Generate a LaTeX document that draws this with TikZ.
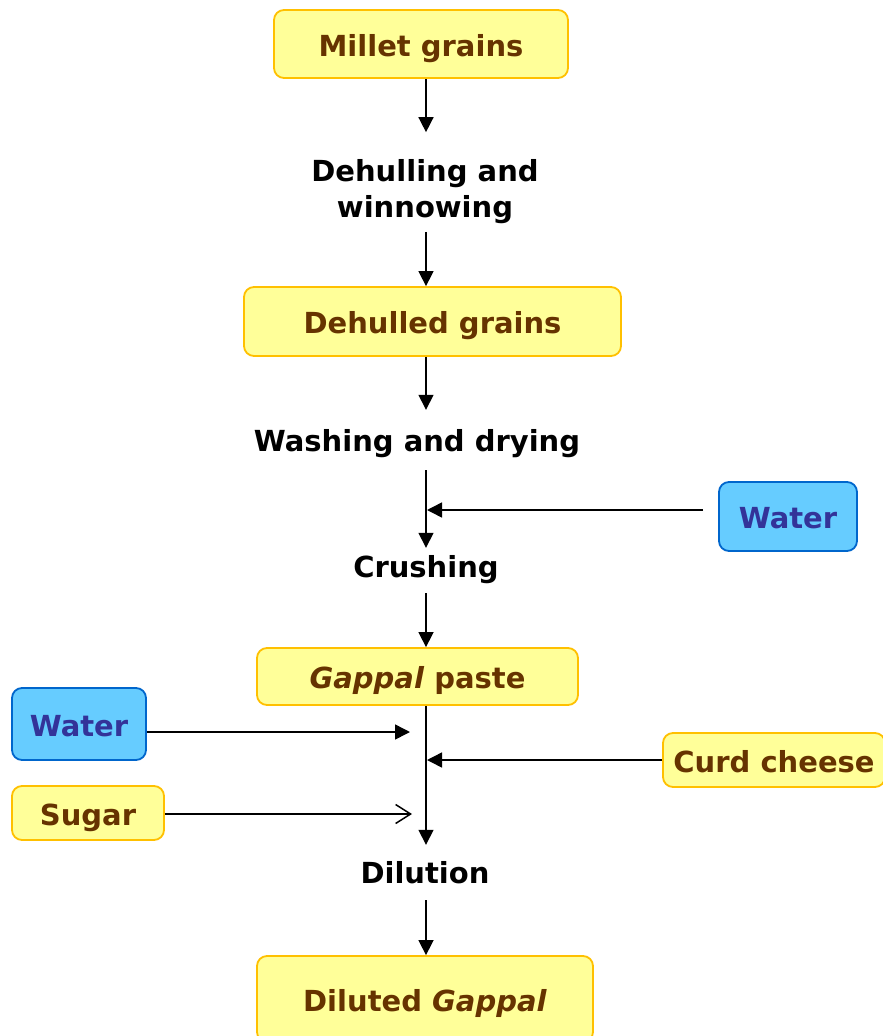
\documentclass[tikz,border=0pt]{standalone}
\usepackage{fontspec}
\setmainfont{DejaVu Sans}
\usetikzlibrary{arrows.meta}
\definecolor{boxfill}{HTML}{FFFF99}
\definecolor{boxline}{HTML}{FFC000}
\definecolor{boxtext}{HTML}{663300}
\definecolor{waterfill}{HTML}{66CCFF}
\definecolor{waterline}{HTML}{0066CC}
\definecolor{watertext}{HTML}{333399}
\begin{document}
\begin{tikzpicture}[x=1pt,y=-1pt,
  every node/.style={font=\fontsize{29}{36}\selectfont\bfseries},
  boxed/.style={rounded corners=10pt, line width=1.8pt, inner sep=0pt, text height=26pt, text depth=2pt},
  prod/.style={boxed, draw=boxline, fill=boxfill, text=boxtext},
  water/.style={boxed, draw=waterline, fill=waterfill, text=watertext},
  stage/.style={text=black, align=center, inner sep=0pt},
  onestage/.style={stage, text height=25pt, text depth=3pt},
  arr/.style={-{Triangle[length=15pt,width=15pt]}, line width=1.5pt},
  barb/.style={-{Straight Barb[length=15pt,width=19pt,line width=1.5pt]}, line width=1.5pt}
]
\useasboundingbox (0,0) rectangle (883,1036);
\clip (0,0) rectangle (883,1036);

% products
\node[prod, minimum width=294pt, minimum height=68pt] (millet) at (421,44) {Millet grains};
\node[prod, minimum width=377pt, minimum height=69pt] (dehulled) at (432.5,321.5) {Dehulled grains};
\node[prod, minimum width=321pt, minimum height=57pt] (gappal) at (417.5,676.5) {\textit{Gappal} paste};
\node[prod, minimum width=222pt, minimum height=54pt] (curd) at (774,760) {Curd cheese};
\node[prod, minimum width=152pt, minimum height=54pt] (sugar) at (88,813) {Sugar};
\node[prod, minimum width=336pt, minimum height=86pt] (diluted) at (425,999) {Diluted \textit{Gappal}};

% water inputs
\node[water, minimum width=138pt, minimum height=69pt] (waterR) at (788,516.5) {Water};
\node[water, minimum width=134pt, minimum height=72pt] (waterL) at (79,724) {Water};

% processing steps
\node[stage] (dehul) at (425,191.5) {Dehulling and\\winnowing};
\node[onestage] (wash) at (417,440) {Washing and drying};
\node[onestage] (crush) at (426,566) {Crushing};
\node[onestage] (dil) at (425,872) {Dilution};

% main column
\coordinate (col) at (426,0);
\coordinate (wjoin) at (427,510);
\coordinate (ljoin) at (410,732);
\coordinate (cjoin) at (427,760);
\coordinate (sjoin) at (412,814);

\draw[arr, shorten >=27pt] (millet.south -| col) -- (dehul.north -| col);
\draw[arr, shorten <=8pt] (dehul.south -| col) -- (dehulled.north -| col);
\draw[arr, shorten >=16pt] (dehulled.south -| col) -- (wash.north -| col);
\draw[arr, shorten <=16pt, shorten >=4pt] (wash.south -| col) -- (crush.north -| col);
\draw[arr, shorten <=13pt] (crush.south -| col) -- (gappal.north -| col);
\draw[arr, shorten >=13pt] (gappal.south -| col) -- (dil.north -| col);
\draw[arr, shorten <=14pt] (dil.south -| col) -- (diluted.north -| col);

% side inputs
\draw[arr, shorten <=15pt] (waterR.west |- wjoin) -- (wjoin);
\draw[arr] (waterL.east |- ljoin) -- (ljoin);
\draw[arr] (curd.west |- cjoin) -- (cjoin);
\draw[barb] (sugar.east |- sjoin) -- (sjoin);
\end{tikzpicture}
\end{document}
